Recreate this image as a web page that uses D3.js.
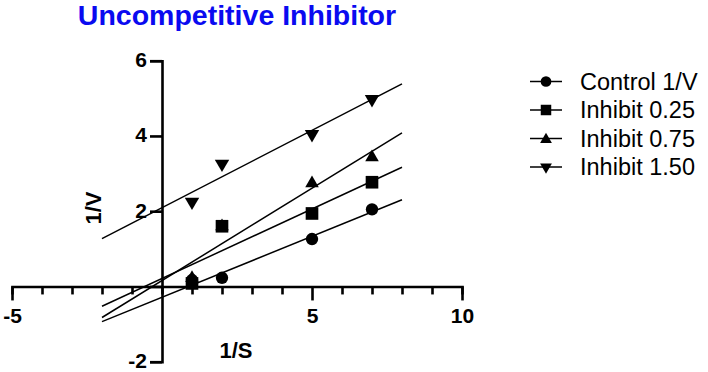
<!DOCTYPE html>
<html>
<head>
<meta charset="utf-8">
<script src="https://cdn.jsdelivr.net/npm/d3@7"></script>
<style>
  body { margin: 0; background: #fff; }
  svg { display: block; font-family: "Liberation Sans", Arial, sans-serif; }
</style>
</head>
<body>
<div id="chart"></div>
<script>
let width = 708;
let height = 372;

// data
let invS = [1, 2, 5, 7];
let control = [0.17, 0.23, 1.26, 2.05];
let inhibit025 = [0.08, 1.6, 1.94, 2.77];
let inhibit075 = [0.22, 1.6, 2.74, 3.43];
let inhibit150 = [2.25, 3.26, 4.05, 4.98];

let seriesNames = ["Control 1/V", "Inhibit 0.25", "Inhibit 0.75", "Inhibit 1.50"];
let seriesValues = [control, inhibit025, inhibit075, inhibit150];
let symbols = [d3.symbolCircle, d3.symbolSquare, d3.symbolTriangle, d3.symbolTriangle];

let xTicks = [-5, -4, -3, -2, -1, 0, 1, 2, 3, 4, 5, 6, 7, 8, 9, 10];
let xLabels = [-5, 5, 10];
let yTicks = [-2, 0, 2, 4, 6];
let yLabels = [-2, 2, 4, 6];
let fitRange = [-2, 8];

let svg = d3.select("#chart")
  .append("svg")
    .attr("width", width)
    .attr("height", height);

let xScale = d3.scaleLinear().domain([-5, 10]).range([12, 462]);
let yScale = d3.scaleLinear().domain([-2, 6]).range([361.7, 60.7]);

// title
svg.append("text")
  .attr("x", (xScale.range()[0] + xScale.range()[1]) / 2)
  .attr("y", 25)
  .attr("text-anchor", "middle")
  .style("font-size", "28.5px")
  .style("font-weight", "bold")
  .style("fill", "#0a0af0")
  .text("Uncompetitive Inhibitor");

// x axis along y = 0
let xAxis = d3.axisBottom(xScale)
  .tickValues(xTicks)
  .tickSize(8)
  .tickFormat("");
let xAxisGroup = svg.append("g")
  .attr("transform", "translate(0," + yScale(0) + ")")
  .call(xAxis);
xAxisGroup.selectAll(".tick line")
  .attr("y2", d => xLabels.includes(d) ? 14 : 8);
xAxisGroup.selectAll(".tick")
  .filter(d => xLabels.includes(d))
  .append("text")
    .attr("y", 37)
    .attr("fill", "#000")
    .attr("text-anchor", "middle")
    .style("font-size", "21px")
    .style("font-weight", "bold")
    .text(d => d);

// y axis along x = 0
let yAxis = d3.axisLeft(yScale)
  .tickValues(yTicks)
  .tickSize(12)
  .tickFormat("");
let yAxisGroup = svg.append("g")
  .attr("transform", "translate(" + xScale(0) + ",0)")
  .call(yAxis);
yAxisGroup.selectAll(".tick")
  .filter(d => yLabels.includes(d))
  .append("text")
    .attr("x", -15)
    .attr("dy", "0.28em")
    .attr("fill", "#000")
    .attr("text-anchor", "end")
    .style("font-size", "21px")
    .style("font-weight", "bold")
    .text(d => d);

svg.selectAll(".domain, .tick line")
  .attr("stroke", "#000")
  .attr("stroke-width", 2.6);

// axis titles
svg.append("text")
  .attr("transform", "translate(101,208) rotate(-90)")
  .attr("text-anchor", "middle")
  .style("font-size", "22px")
  .style("font-weight", "bold")
  .text("1/V");

svg.append("text")
  .attr("x", 236)
  .attr("y", 358)
  .attr("text-anchor", "middle")
  .style("font-size", "22px")
  .style("font-weight", "bold")
  .text("1/S");

// least squares fit for each series
function fit(xs, ys) {
  let mx = d3.mean(xs);
  let my = d3.mean(ys);
  let sxy = d3.sum(xs, (x, i) => (x - mx) * (ys[i] - my));
  let sxx = d3.sum(xs, x => (x - mx) * (x - mx));
  let slope = sxy / sxx;
  return { slope: slope, intercept: my - slope * mx };
}

let line = d3.line()
  .x(d => xScale(d[0]))
  .y(d => yScale(d[1]));

seriesValues.forEach(function(ys) {
  let f = fit(invS, ys);
  svg.append("path")
    .attr("d", line(fitRange.map(x => [x, f.intercept + f.slope * x])))
    .attr("fill", "none")
    .attr("stroke", "#000")
    .attr("stroke-width", 1.5);
});

function symbolPath(i, size) {
  return d3.symbol().type(symbols[i]).size(size)();
}
let markerSizes = [120, 160, 80, 90];

// later series first so the control sits on top
for (let i = seriesValues.length - 1; i >= 0; i--) {
  svg.append("g").selectAll("path")
    .data(seriesValues[i])
    .enter()
    .append("path")
      .attr("d", symbolPath(i, markerSizes[i]))
      .attr("transform", (d, j) => "translate(" + xScale(invS[j]) + "," + yScale(d) + ")" + (i == 3 ? " rotate(180)" : ""))
      .attr("fill", "#000");
}

// legend
let legend = svg.selectAll(".legend")
  .data(seriesNames)
  .enter()
  .append("g")
    .attr("class", "legend")
    .attr("transform", (d, i) => "translate(0," + (81.5 + i * 28.5) + ")");

legend.append("line")
  .attr("x1", 530)
  .attr("x2", 562)
  .attr("stroke", "#000")
  .attr("stroke-width", 1.5);

legend.append("path")
  .attr("d", (d, i) => symbolPath(i, [90, 110, 60, 60][i]))
  .attr("transform", (d, i) => "translate(546," + (i == 2 ? 1 : 0) + ")" + (i == 3 ? " rotate(180)" : ""))
  .attr("fill", "#000");

legend.append("text")
  .attr("x", 580)
  .attr("dy", "0.36em")
  .style("font-size", "23.5px")
  .text(d => d);
</script>
</body>
</html>
